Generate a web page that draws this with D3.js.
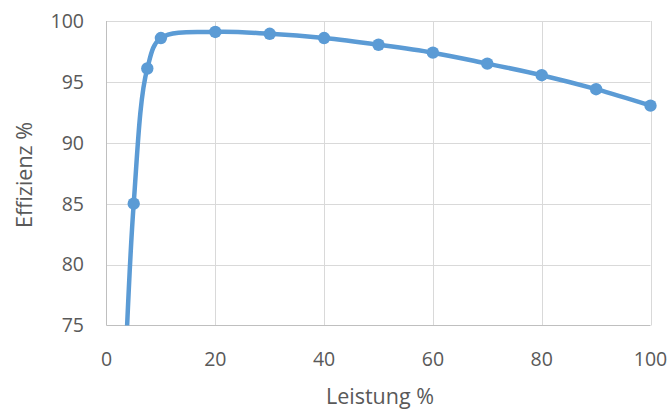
<!DOCTYPE html>
<html><head><meta charset="utf-8">
<script src="https://cdn.jsdelivr.net/npm/d3@7"></script>
<style>body{margin:0;background:#fff}svg{display:block}text{font-family:"Open Sans",sans-serif;fill:#595959}</style>
</head><body><svg id="c" width="670" height="411"></svg>
<script>
const leistung = [2.5, 5, 7.5, 10, 20, 30, 40, 50, 60, 70, 80, 90, 100];
const effizienz = [60, 85, 96.1, 98.6, 99.1, 98.95, 98.6, 98.05, 97.4, 96.5, 95.55, 94.4, 93.05];
const xTicks = [0, 20, 40, 60, 80, 100];
const yTicks = [75, 80, 85, 90, 95, 100];
const xTitle = "Leistung %";
const yTitle = "Effizienz %";

const svg = d3.select("#c");
const L = 106.5, R = 650.5, T = 21, B = 325.5;
const x = d3.scaleLinear().domain([0, 100]).range([L, R]);
const y = d3.scaleLinear().domain([75, 100]).range([B, T]);

// gridlines
svg.append("g").selectAll("line").data(yTicks.filter(d => d !== 75)).join("line")
  .attr("x1", L).attr("x2", R).attr("y1", d => Math.round(y(d)) + 0.5).attr("y2", d => Math.round(y(d)) + 0.5)
  .attr("stroke", "#d9d9d9").attr("stroke-width", 1);
svg.append("g").selectAll("line").data(xTicks.filter(d => d !== 0)).join("line")
  .attr("y1", T).attr("y2", B).attr("x1", d => Math.round(x(d)) + 0.5).attr("x2", d => Math.round(x(d)) + 0.5)
  .attr("stroke", "#d9d9d9").attr("stroke-width", 1);
// axes lines
svg.append("line").attr("x1", L).attr("x2", L).attr("y1", T).attr("y2", B).attr("stroke", "#bfbfbf");
svg.append("line").attr("x1", L).attr("x2", R).attr("y1", B).attr("y2", B).attr("stroke", "#bfbfbf");

// tick labels
svg.append("g").selectAll("text").data(yTicks).join("text")
  .attr("x", 84).attr("y", d => y(d)).attr("dy", "0.35em").attr("text-anchor", "end")
  .style("font-size", "19.5px").text(d => d);
svg.append("g").selectAll("text").data(xTicks).join("text")
  .attr("x", d => x(d)).attr("y", 366).attr("text-anchor", "middle")
  .style("font-size", "19.5px").text(d => d);

// titles
svg.append("text").attr("x", 380).attr("y", 404).attr("text-anchor", "middle")
  .style("font-size", "21.5px").text(xTitle);
svg.append("text").attr("transform", "translate(32,175) rotate(-90)").attr("text-anchor", "middle")
  .style("font-size", "21.5px").text(yTitle);

// clip
svg.append("defs").append("clipPath").attr("id", "clip").append("rect")
  .attr("x", L).attr("y", T - 10).attr("width", R - L + 10).attr("height", B - T + 10);

const data = leistung.map((d, i) => ({x: d, y: effizienz[i]}));
const g = svg.append("g").attr("clip-path", "url(#clip)");
g.append("path").datum(data)
  .attr("d", d3.line().x(d => x(d.x)).y(d => y(d.y)).curve(d3.curveCatmullRom.alpha(0.5)))
  .attr("fill", "none").attr("stroke", "#5b9bd5").attr("stroke-width", 4.5).attr("stroke-linejoin", "round");
g.selectAll("circle").data(data.filter(d => d.y >= 75)).join("circle")
  .attr("cx", d => x(d.x)).attr("cy", d => y(d.y)).attr("r", 6.2).attr("fill", "#5b9bd5");
</script></body></html>
